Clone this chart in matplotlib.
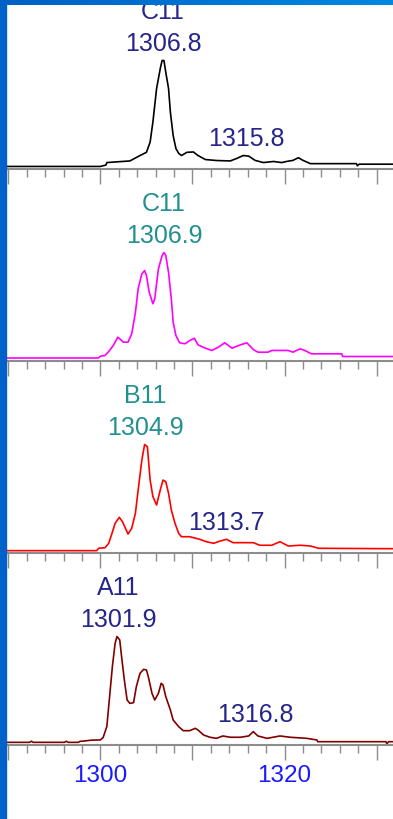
import numpy as np
import matplotlib
matplotlib.use("Agg")
import matplotlib.pyplot as plt
from matplotlib import font_manager
from matplotlib.patches import Rectangle
from matplotlib.colors import LinearSegmentedColormap
from matplotlib.ticker import MultipleLocator, FuncFormatter

# --- data (m/z vs. relative intensity, % of base peak) ---
mz_c11_top = [1289.0, 1300.0, 1300.6, 1300.7, 1303.2, 1304.3, 1305.0, 1305.4, 1305.7, 1306.1,
              1306.5, 1306.7, 1306.9, 1307.1, 1307.4, 1307.6, 1307.9, 1308.2, 1308.5, 1308.8,
              1309.4, 1310.1, 1310.6, 1311.4, 1312.6, 1314.1, 1314.8, 1315.5, 1316.1, 1316.8,
              1317.7, 1318.8, 1319.7, 1320.2, 1320.9, 1321.5, 1322.0, 1322.8, 1327.8, 1327.9,
              1328.1, 1332.0]
int_c11_top = [1.9, 1.9, 3.2, 5.5, 7.0, 12.0, 15.0, 24.5, 43.0, 74.0,
               92.6, 100.0, 100.0, 89.0, 74.0, 52.0, 30.5, 18.5, 14.0, 12.0,
               15.0, 15.3, 12.0, 8.3, 7.4, 7.0, 9.3, 12.0, 11.5, 7.5,
               5.5, 6.5, 5.5, 6.5, 7.5, 10.0, 7.5, 4.5, 4.5, 2.5,
               4.0, 4.0]

mz_c11 = [1289.0, 1299.8, 1300.0, 1300.5, 1300.9, 1301.4, 1301.9, 1302.5, 1303.0, 1303.4,
          1303.8, 1304.1, 1304.5, 1304.8, 1305.0, 1305.3, 1305.7, 1305.9, 1306.3, 1306.7,
          1306.9, 1307.1, 1307.4, 1307.7, 1307.9, 1308.2, 1308.6, 1309.2, 1309.7, 1310.2,
          1310.6, 1311.4, 1312.1, 1312.8, 1313.5, 1314.3, 1315.0, 1315.9, 1316.6, 1317.1,
          1318.2, 1318.6, 1320.4, 1320.9, 1321.7, 1322.2, 1322.9, 1326.2, 1326.3, 1332.0]
int_c11 = [2.3, 2.3, 4.0, 4.6, 8.3, 13.9, 21.6, 17.0, 17.0, 24.7,
           44.4, 66.4, 80.3, 83.3, 78.7, 63.2, 52.5, 57.1, 84.9, 97.2,
           100.0, 97.2, 81.5, 57.1, 35.5, 23.1, 16.4, 15.5, 18.5, 20.6,
           14.5, 11.4, 9.3, 12.3, 16.4, 11.4, 13.9, 16.4, 10.2, 7.7,
           7.7, 9.3, 9.3, 7.7, 10.8, 9.3, 6.2, 6.2, 3.7, 3.7]

mz_b11 = [1289.0, 1299.6, 1299.8, 1300.5, 1300.9, 1301.2, 1301.6, 1302.05, 1302.4, 1303.0,
          1303.4, 1303.8, 1304.1, 1304.5, 1304.8, 1305.1, 1305.4, 1305.7, 1306.1, 1306.5,
          1306.8, 1307.1, 1307.4, 1307.7, 1308.1, 1308.5, 1308.8, 1309.7, 1310.8, 1311.5,
          1312.3, 1313.0, 1313.7, 1314.4, 1315.3, 1316.6, 1317.3, 1318.6, 1319.5, 1320.4,
          1321.7, 1322.8, 1323.7, 1332.0]
int_b11 = [1.7, 1.7, 3.9, 4.4, 8.5, 16.2, 27.0, 32.6, 28.5, 17.1,
           22.4, 36.3, 57.9, 85.6, 100.0, 98.0, 67.1, 51.7, 44.0, 57.9,
           67.1, 65.6, 54.8, 39.4, 27.0, 17.8, 14.6, 14.6, 12.2, 10.0,
           8.5, 10.6, 12.2, 9.1, 9.1, 9.1, 6.7, 6.7, 10.0, 6.0,
           6.7, 6.0, 3.9, 3.5]

mz_a11 = [1289.0, 1292.3, 1292.5, 1292.7, 1296.1, 1296.3, 1296.5, 1297.6, 1297.8, 1298.0,
          1299.0, 1299.8, 1300.0, 1300.3, 1300.7, 1301.0, 1301.3, 1301.6, 1301.8, 1302.1,
          1302.3, 1302.6, 1302.9, 1303.2, 1303.6, 1303.9, 1304.3, 1304.7, 1305.0, 1305.2,
          1305.6, 1305.9, 1306.3, 1306.6, 1306.8, 1307.1, 1307.6, 1307.9, 1308.5, 1309.0,
          1309.7, 1310.3, 1310.6, 1311.2, 1311.9, 1312.6, 1313.3, 1314.1, 1315.2, 1316.1,
          1316.6, 1317.1, 1318.1, 1319.5, 1320.6, 1322.4, 1323.5, 1323.6, 1331.0, 1331.1,
          1331.3, 1332.0]
int_a11 = [2.0, 2.0, 3.0, 2.0, 2.0, 3.0, 2.0, 2.0, 3.0, 3.0,
           4.0, 4.2, 4.2, 6.5, 16.7, 44.4, 72.2, 93.7, 100.0, 96.8,
           81.3, 59.7, 41.2, 38.1, 38.7, 53.5, 65.9, 69.6, 69.0, 62.8,
           47.4, 41.2, 47.4, 56.7, 55.1, 44.3, 31.9, 22.7, 16.5, 12.8,
           12.8, 15.0, 13.4, 8.8, 6.7, 5.7, 7.9, 6.7, 6.7, 7.9,
           11.9, 7.9, 5.7, 7.9, 6.7, 5.7, 4.2, 2.6, 2.6, 0.8,
           2.6, 2.6]

sample_names = ["C11", "C11", "B11", "A11"]
base_peaks = [1306.8, 1306.9, 1304.9, 1301.9]
side_peaks = [1315.8, None, 1313.7, 1316.8]
labelled_ticks = [1300, 1320]

traces = [(mz_c11_top, int_c11_top), (mz_c11, int_c11), (mz_b11, int_b11), (mz_a11, int_a11)]
line_colors = ["#000000", "#ff00ff", "#ff0000", "#800000"]
name_colors = ["#26268a", "#239090", "#239090", "#26268a"]
side_colors = ["#26268a", None, "#26268a", "#26268a"]

# annotation font: narrow sans if it is there
try:
    font_manager.findfont("Liberation Sans Narrow", fallback_to_default=False)
    ann_family, ann_size = "Liberation Sans Narrow", 21.5
except ValueError:
    ann_family, ann_size = "Liberation Sans", 18

W, H = 393, 819
fig = plt.figure(figsize=(W / 100, H / 100), dpi=100)
fig.patch.set_facecolor("white")

px_per_unit = 9.21
x0 = 1290 - 8.3 / px_per_unit
x1 = x0 + W / px_per_unit
ax_h = 160
y_top = ax_h / 1.08

for i, (mz, inten) in enumerate(traces):
    base_y = 168.5 + 192 * i
    ax = fig.add_axes([0, 1 - base_y / H, 1, ax_h / H])
    ax.set_facecolor("none")
    ax.plot(mz, inten, color=line_colors[i], lw=1.2)
    ax.set_xlim(x0, x1)
    ax.set_ylim(0, y_top)

    for s in ("top", "left", "right"):
        ax.spines[s].set_visible(False)
    ax.spines["bottom"].set_color("#8c8c8c")
    ax.spines["bottom"].set_linewidth(1.5)
    ax.set_yticks([])
    ax.xaxis.set_major_locator(MultipleLocator(10))
    ax.xaxis.set_minor_locator(MultipleLocator(2))
    ax.tick_params(axis="x", which="major", length=10.8, width=1.0, color="#8c8c8c",
                   labelsize=17.5, labelcolor="#1a1aff", pad=4)
    ax.tick_params(axis="x", which="minor", length=5.8, width=1.0, color="#8c8c8c")
    if i == 3:
        ax.xaxis.set_major_formatter(
            FuncFormatter(lambda v, p: f"{v:.0f}" if round(v) in labelled_ticks else ""))
        for lab in ax.get_xticklabels():
            lab.set_family("Liberation Sans")
    else:
        ax.tick_params(axis="x", labelbottom=False)

    ax.text(base_peaks[i], 144.9, sample_names[i], ha="center", va="center",
            color=name_colors[i], fontsize=ann_size, family=ann_family)
    ax.text(base_peaks[i], 115.3, f"{base_peaks[i]:.1f}", ha="center", va="center",
            color=name_colors[i], fontsize=ann_size, family=ann_family)
    if side_peaks[i] is not None:
        ax.text(side_peaks[i], 27.5, f"{side_peaks[i]:.1f}", ha="center", va="center",
                color=side_colors[i], fontsize=ann_size, family=ann_family)

# window frame: blue bar on the left, gradient bar along the top
fig.add_artist(Rectangle((0, 0), 6 / W, 1, transform=fig.transFigure,
                         color="#0062c8", zorder=10))
bar = fig.add_axes([0, 1 - 5 / H, 1, 5 / H], zorder=11)
bar.imshow(np.linspace(0, 1, 256)[None, :], aspect="auto",
           cmap=LinearSegmentedColormap.from_list("bar", ["#0060c4", "#0088e2"]))
bar.axis("off")

fig.savefig("out.png", dpi=100)
